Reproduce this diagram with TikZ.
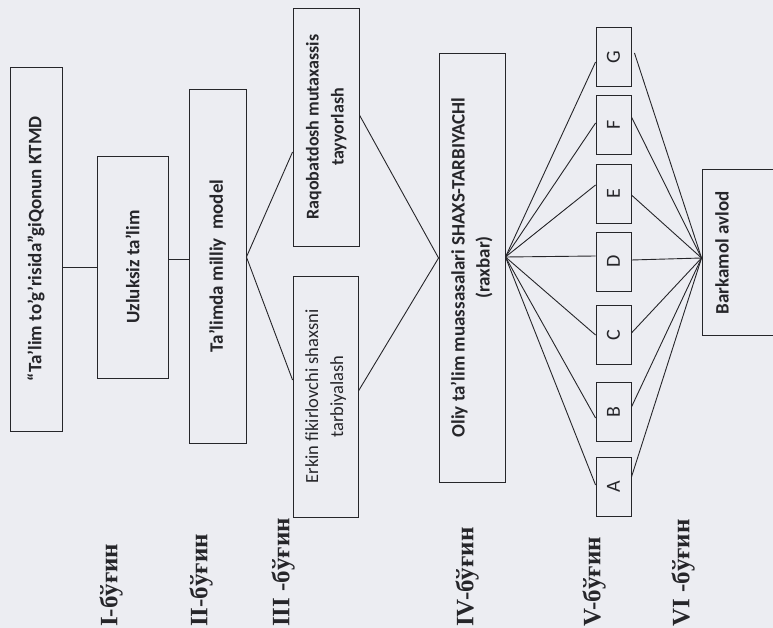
\documentclass[tikz,border=0pt]{standalone}
\usepackage{fontspec}
\setmainfont{Liberation Serif}
\newfontfamily\boxfnt{Carlito}
\usetikzlibrary{calc}
\definecolor{bg}{RGB}{236,237,242}
\definecolor{ink}{RGB}{38,38,42}
\tikzset{
  box/.style={draw=ink, line width=0.9pt, rectangle, inner sep=0pt, text=ink},
  bold19/.style={font=\boxfnt\bfseries\fontsize{19}{25}\selectfont},
  bold18/.style={font=\boxfnt\bfseries\fontsize{18}{25}\selectfont},
  reg18/.style={font=\boxfnt\fontsize{18.5}{25}\selectfont},
  letterbox/.style={box, minimum width=35pt, minimum height=59pt, font=\boxfnt\fontsize{20}{22}\selectfont},
  lab/.style={rotate=90, anchor=west, inner sep=0pt, text=ink, font=\bfseries\fontsize{25}{30}\selectfont},
  conn/.style={draw=ink, line width=0.9pt}
}
\begin{document}
\begin{tikzpicture}[x=1pt,y=-1pt]
\fill[bg] (0,0) rectangle (773,628);
\useasboundingbox (0,0) rectangle (773,628);
\clip (0,0) rectangle (773,628);

% main boxes
\node[box, bold19, minimum width=52pt, minimum height=364pt] (b1) at (36,249)
  {\rotatebox{90}{“Ta’lim to’g’risida”giQonun KTMD}};
\node[box, bold19, minimum width=71pt, minimum height=222pt] (b2) at (132.5,267)
  {\rotatebox{90}{Uzluksiz ta’lim}};
\node[box, bold19, minimum width=57pt, minimum height=354pt] (b3) at (217.5,266)
  {\rotatebox{90}{Ta’limda milliy~ model}};
\node[box, bold18, minimum width=66pt, minimum height=238pt] (b4a) at (326,127)
  {\rotatebox{90}{\begin{tabular}{@{}c@{}}Raqobatdosh mutaxassis\\tayyorlash\end{tabular}}};
\node[box, reg18, minimum width=65pt, minimum height=241pt] (b4b) at (325.5,396.5)
  {\rotatebox{90}{\begin{tabular}{@{}c@{}}Erkin fikirlovchi shaxsni\\tarbiyalash\end{tabular}}};
\node[box, bold19, minimum width=66pt, minimum height=429pt] (b5) at (472,267.5)
  {\rotatebox{90}{\begin{tabular}{@{}c@{}}Oliy ta’lim muassasalari SHAXS-TARBIYACHl\\(raxbar)\end{tabular}}};

% letter boxes
\node[letterbox] (G) at (613.5,57)    {\rotatebox{90}{G}};
\node[letterbox] (F) at (613.5,125)   {\rotatebox{90}{F}};
\node[letterbox] (E) at (613.5,194)   {\rotatebox{90}{E}};
\node[letterbox] (D) at (613.5,261.5) {\rotatebox{90}{D}};
\node[letterbox] (C) at (613.5,335)   {\rotatebox{90}{C}};
\node[letterbox] (B) at (613.5,412)   {\rotatebox{90}{B}};
\node[letterbox] (A) at (613.5,486.5) {\rotatebox{90}{A}};

% final box
\node[box, minimum width=88pt, minimum height=166pt] (b6) at (746,252) {};
\node[bold19, text=ink, rotate=90, inner sep=0pt] (b6t) at (722,253) {Barkamol avlod};

% connectors
\draw[conn] (b1.east |- b2.west) -- (b2.west);
\draw[conn] ([yshift=8pt]b2.east) -- ([yshift=8pt]b2.east -| b3.west);
\coordinate (p3) at ([yshift=9pt]b3.east);
\draw[conn] ([yshift=-25pt]b4a.west) -- (p3) -- ([yshift=16.5pt]b4b.west);
\coordinate (p5w) at ([yshift=9.5pt]b5.west);
\draw[conn] ([yshift=12pt]b4a.east) -- (p5w) -- ([yshift=5.5pt]b4b.east);
\coordinate (p5e) at ([yshift=10.5pt]b5.east);
\draw[conn] (p5e) -- ([yshift=-5pt]G.west);
\draw[conn] (p5e) -- ([yshift=2pt]F.west);
\draw[conn] (p5e) -- ([yshift=9pt]E.west);
\draw[conn] (p5e) -- ([yshift=5.5pt]D.west);
\draw[conn] (p5e) -- (C.west);
\draw[conn] (p5e) -- ([yshift=-6pt]B.west);
\draw[conn] (p5e) -- ([yshift=1.5pt]A.west);
\coordinate (p6) at ([yshift=-6pt]b6.west);
\draw[conn] ([yshift=4pt,xshift=3pt]G.east) -- (p6);
\draw[conn] ([yshift=8pt]F.east) -- (p6);
\draw[conn] ([yshift=-1pt]E.east) -- (p6);
\draw[conn] ([yshift=1.5pt]D.east) -- (p6);
\draw[conn] ([yshift=2pt]C.east) -- (p6);
\draw[conn] ([yshift=5pt]B.east) -- (p6);
\draw[conn] ([yshift=9.5pt]A.east) -- (p6);

% stage labels
\node[lab] (l1) at (111,627) {I-бўғин};
\node[lab] (l2) at (201,627) {II-бўғин};
\node[lab] (l3) at (283,627) {III -бўғин};
\node[lab] (l4) at (467,627) {IV-бўғин};
\node[lab] (l5) at (594,627) {V-бўғин};
\node[lab] (l6) at (683,627) {VI -бўғин};
\end{tikzpicture}
\end{document}
